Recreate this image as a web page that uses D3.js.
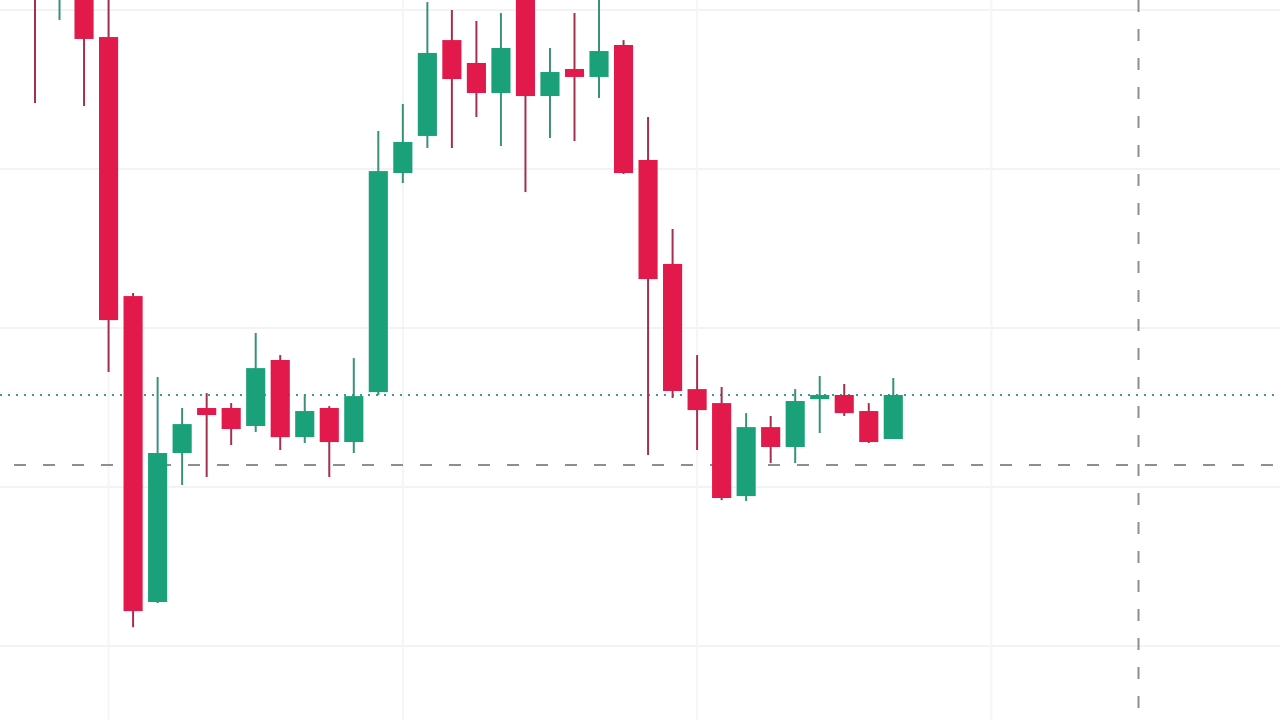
<!DOCTYPE html>
<html>
<head>
<meta charset="utf-8">
<script src="https://cdn.jsdelivr.net/npm/d3@7"></script>
<style>
  html, body { margin: 0; padding: 0; background: #ffffff; overflow: hidden; }
  svg { display: block; }
</style>
</head>
<body>
<svg id="chart" width="1280" height="720"></svg>
<script>
// ---- data (bar index = period number) ----
const bars  = d3.range(0, 36);
const open  = [131.89,131.13,131.57,128.30,112.01, 92.77,102.14,104.97,104.97,103.84,
               107.99,103.14,104.97,102.83,105.97,119.75,122.08,128.11,126.67,124.78,
               130.94,124.59,126.29,125.79,127.80,120.57,114.03,106.16,105.28, 99.43,
               103.77,102.52,105.53,105.79,104.78,103.02];
const high  = [133.14,133.46,132.52,131.26,112.20,106.92,104.97,105.91,105.28,109.69,
               108.30,105.79,105.09,108.11,122.39,124.09,130.50,130.00,129.31,129.81,
               131.89,127.61,129.81,131.26,128.11,123.27,116.23,108.30,106.29,104.65,
               104.47,106.16,106.98,106.48,105.28,106.86];
const low   = [124.15,129.37,123.96,107.23, 91.19, 92.70,100.13,100.63,102.64,103.46,
               102.33,102.77,100.63,102.14,105.79,119.12,121.32,121.32,123.27,121.45,
               118.55,121.95,121.76,124.47,119.69,102.01,105.60,102.33, 99.18, 99.12,
               101.51,101.51,103.40,104.47,102.77,103.02];
const close = [130.94,132.52,128.18,110.50, 92.20,102.14,103.96,104.53,103.65,107.48,
               103.14,104.78,102.83,105.72,119.87,121.70,127.30,125.66,124.78,127.61,
               124.59,126.10,125.79,127.42,119.75,113.08,106.04,104.84, 99.31,103.77,
               102.52,105.41,105.79,104.65,102.83,105.79];
const priceTicks = [90, 100, 110, 120, 130];
const timeGridBars = [3, 15, 27, 39];
const crosshairBar = 45;
const crosshairPrice = 101.38;
const lastPrice = close[close.length - 1];

// ---- layout ----
const W = 1280, H = 720;
const svg = d3.select("#chart");
const x = d3.scaleLinear().domain([-1.4274, 50.77]).range([0, W]);
const y = d3.scaleLinear().domain([85.35, 130.63]).range([H, 0]);
const step = x(1) - x(0);
const bodyW = step * 0.78;
const UP = "#1aa17a", DOWN = "#e11a4b";
const UP_WICK = "#3a9079", DOWN_WICK = "#a3304f";

// grid
svg.append("g").selectAll("line").data(priceTicks).join("line")
  .attr("x1", 0).attr("x2", W)
  .attr("y1", d => y(d)).attr("y2", d => y(d))
  .attr("stroke", "#f3f3f4").attr("stroke-width", 2);
svg.append("g").selectAll("line").data(timeGridBars).join("line")
  .attr("x1", d => x(d)).attr("x2", d => x(d))
  .attr("y1", 0).attr("y2", H)
  .attr("stroke", "#f5f5f6").attr("stroke-width", 2);

// crosshair horizontal
svg.append("line")
  .attr("x1", 14).attr("x2", W)
  .attr("y1", y(crosshairPrice)).attr("y2", y(crosshairPrice))
  .attr("stroke", "#8e8e8e").attr("stroke-width", 2)
  .attr("stroke-dasharray", "12 17");

// last price dotted line
svg.append("line")
  .attr("x1", 0).attr("x2", W)
  .attr("y1", y(lastPrice)).attr("y2", y(lastPrice))
  .attr("stroke", "#3f9d89").attr("stroke-width", 2)
  .attr("stroke-dasharray", "2 6");

// candles
const g = svg.append("g");
const cand = g.selectAll("g").data(bars).join("g");
cand.append("line")
  .attr("x1", i => x(i)).attr("x2", i => x(i))
  .attr("y1", i => y(high[i])).attr("y2", i => y(low[i]))
  .attr("stroke", i => close[i] >= open[i] ? UP_WICK : DOWN_WICK)
  .attr("stroke-width", 2);
cand.append("rect")
  .attr("x", i => x(i) - bodyW / 2)
  .attr("width", bodyW)
  .attr("y", i => y(Math.max(open[i], close[i])))
  .attr("height", i => Math.max(2, Math.abs(y(open[i]) - y(close[i]))))
  .attr("fill", i => close[i] >= open[i] ? UP : DOWN);

// crosshair vertical
svg.append("line")
  .attr("x1", x(crosshairBar)).attr("x2", x(crosshairBar))
  .attr("y1", 0).attr("y2", H)
  .attr("stroke", "#8e8e8e").attr("stroke-width", 2)
  .attr("stroke-dasharray", "12 17");
</script>
</body>
</html>
